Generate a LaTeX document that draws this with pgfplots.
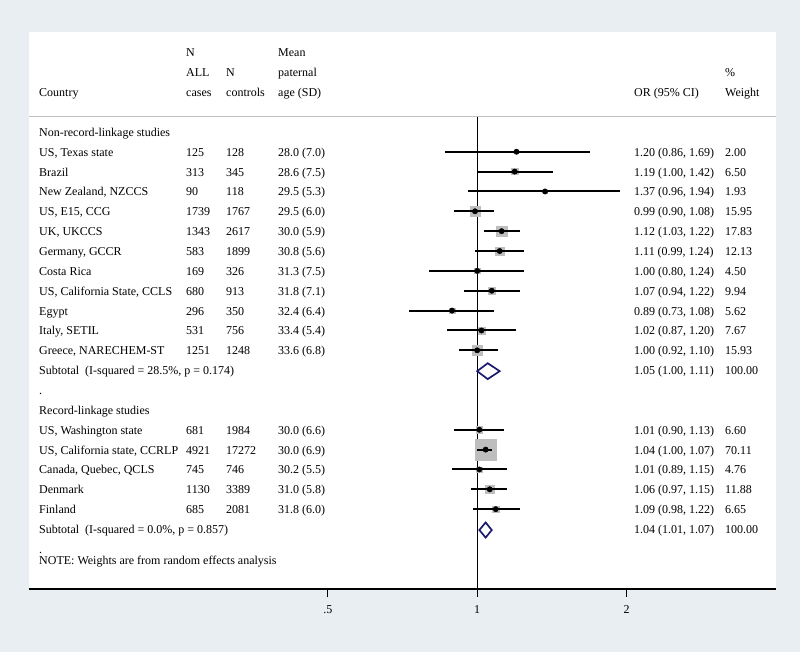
\documentclass[border=0pt]{standalone}
\usepackage{pgfplots}
\pgfplotsset{compat=1.18}
\usepackage{pgfplotstable}
\usepackage{fontspec}
\setmainfont{Liberation Serif}
\definecolor{bg}{RGB}{232,238,242}
\definecolor{sepgray}{RGB}{192,192,192}
\definecolor{boxgray}{RGB}{190,190,190}
\definecolor{navy}{RGB}{26,26,110}

\pgfplotstableread{
row or lo hi w
0 1.20 0.86 1.69 2.00
1 1.19 1.00 1.42 6.50
2 1.37 0.96 1.94 1.93
3 0.99 0.90 1.08 15.95
4 1.12 1.03 1.22 17.83
5 1.11 0.99 1.24 12.13
6 1.00 0.80 1.24 4.50
7 1.07 0.94 1.22 9.94
8 0.89 0.73 1.08 5.62
9 1.02 0.87 1.20 7.67
10 1.00 0.92 1.10 15.93
14 1.01 0.90 1.13 6.60
15 1.04 1.00 1.07 70.11
16 1.01 0.89 1.15 4.76
17 1.06 0.97 1.15 11.88
18 1.09 0.98 1.22 6.65
}\studies

\newcommand\T[3]{\node[txt] at (#1,{156.2+19.86*(#2)}) {#3};}

\begin{document}
\begin{tikzpicture}
\fill[bg] (0,0) rectangle (800bp,-652bp);
\begin{axis}[
  at={(29bp,-589bp)}, anchor=south west,
  scale only axis, width=747bp, height=557bp,
  xmode=log, xmin=0.125, xmax=4,
  ymin=-22.02, ymax=6.03,
  axis x line=bottom, axis y line=none,
  axis line style={-, line width=1.1bp, black},
  xtick={0.5,1,2}, xticklabels={\mbox{.5},\mbox{1},\mbox{2}},
  minor xtick={},
  tick align=outside, major tick length=8bp,
  tick style={line width=1.1bp, black},
  xticklabel style={font=\fontsize{12bp}{14bp}\selectfont, text=black, yshift=-5bp},
  axis background/.style={fill=white},
  clip=false, clip mode=individual,
]
% header separator and null line
\addplot[sepgray, line width=1bp] coordinates {(0.125,1.75) (4,1.75)};
\addplot[black, line width=1.1bp] coordinates {(1,1.75) (1,-22.02)};
% weight boxes
\addplot[scatter, only marks, mark=square*,
  scatter/use mapped color={draw=boxgray, fill=boxgray},
  visualization depends on={1.22*sqrt(\thisrow{w}) \as \msz},
  scatter/@pre marker code/.append style={/tikz/mark size=\msz}]
  table[x=or, y expr=-\thisrow{row}] {\studies};
% CIs
\addplot[only marks, mark=none, black,
  error bars/.cd, x dir=both, x explicit, error mark=none,
  error bar style={line width=2bp, black}]
  table[x=or, y expr=-\thisrow{row},
        x error plus expr=\thisrow{hi}-\thisrow{or},
        x error minus expr=\thisrow{or}-\thisrow{lo}] {\studies};
% point estimates
\addplot[only marks, mark=*, mark size=2.7, black]
  table[x=or, y expr=-\thisrow{row}] {\studies};
% subtotal diamonds
\addplot[navy, line width=1.7bp, fill=white, line join=miter]
  coordinates {(1.00,-11.05) (1.05,-10.65) (1.11,-11.05) (1.05,-11.45)} -- cycle;
\addplot[navy, line width=1.7bp, fill=white, line join=miter]
  coordinates {(1.01,-19.05) (1.04,-18.67) (1.07,-19.05) (1.04,-19.43)} -- cycle;
\end{axis}
\begin{scope}[x=1bp, y=-1bp, txt/.style={anchor=base west, inner sep=0pt, font=\fontsize{12bp}{14bp}\selectfont, text=black}]
\T{186}{-5}{N}
\T{278}{-5}{Mean}
\T{186}{-4}{ALL}
\T{226}{-4}{N}
\T{278}{-4}{paternal}
\T{725}{-4}{\%}
\T{39}{-3}{Country}
\T{186}{-3}{cases}
\T{226}{-3}{controls}
\T{278}{-3}{age (SD)}
\T{634}{-3}{OR (95\% CI)}
\T{725}{-3}{Weight}
\T{39}{-1}{Non-record-linkage studies}
% rows
\T{39}{0}{US, Texas state}\T{186}{0}{125}\T{226}{0}{128}\T{278}{0}{28.0 (7.0)}\T{634}{0}{1.20 (0.86, 1.69)}\T{725}{0}{2.00}
\T{39}{1}{Brazil}\T{186}{1}{313}\T{226}{1}{345}\T{278}{1}{28.6 (7.5)}\T{634}{1}{1.19 (1.00, 1.42)}\T{725}{1}{6.50}
\T{39}{2}{New Zealand, NZCCS}\T{186}{2}{90}\T{226}{2}{118}\T{278}{2}{29.5 (5.3)}\T{634}{2}{1.37 (0.96, 1.94)}\T{725}{2}{1.93}
\T{39}{3}{US, E15, CCG}\T{186}{3}{1739}\T{226}{3}{1767}\T{278}{3}{29.5 (6.0)}\T{634}{3}{0.99 (0.90, 1.08)}\T{725}{3}{15.95}
\T{39}{4}{UK, UKCCS}\T{186}{4}{1343}\T{226}{4}{2617}\T{278}{4}{30.0 (5.9)}\T{634}{4}{1.12 (1.03, 1.22)}\T{725}{4}{17.83}
\T{39}{5}{Germany, GCCR}\T{186}{5}{583}\T{226}{5}{1899}\T{278}{5}{30.8 (5.6)}\T{634}{5}{1.11 (0.99, 1.24)}\T{725}{5}{12.13}
\T{39}{6}{Costa Rica}\T{186}{6}{169}\T{226}{6}{326}\T{278}{6}{31.3 (7.5)}\T{634}{6}{1.00 (0.80, 1.24)}\T{725}{6}{4.50}
\T{39}{7}{US, California State, CCLS}\T{186}{7}{680}\T{226}{7}{913}\T{278}{7}{31.8 (7.1)}\T{634}{7}{1.07 (0.94, 1.22)}\T{725}{7}{9.94}
\T{39}{8}{Egypt}\T{186}{8}{296}\T{226}{8}{350}\T{278}{8}{32.4 (6.4)}\T{634}{8}{0.89 (0.73, 1.08)}\T{725}{8}{5.62}
\T{39}{9}{Italy, SETIL}\T{186}{9}{531}\T{226}{9}{756}\T{278}{9}{33.4 (5.4)}\T{634}{9}{1.02 (0.87, 1.20)}\T{725}{9}{7.67}
\T{39}{10}{Greece, NARECHEM-ST}\T{186}{10}{1251}\T{226}{10}{1248}\T{278}{10}{33.6 (6.8)}\T{634}{10}{1.00 (0.92, 1.10)}\T{725}{10}{15.93}
\T{39}{11}{Subtotal\ \ (I-squared = 28.5\%, p = 0.174)}\T{634}{11}{1.05 (1.00, 1.11)}\T{725}{11}{100.00}
\T{39}{12}{.}
\T{39}{13}{Record-linkage studies}
\T{39}{14}{US, Washington state}\T{186}{14}{681}\T{226}{14}{1984}\T{278}{14}{30.0 (6.6)}\T{634}{14}{1.01 (0.90, 1.13)}\T{725}{14}{6.60}
\T{39}{15}{US, California state, CCRLP}\T{186}{15}{4921}\T{226}{15}{17272}\T{278}{15}{30.0 (6.9)}\T{634}{15}{1.04 (1.00, 1.07)}\T{725}{15}{70.11}
\T{39}{16}{Canada, Quebec, QCLS}\T{186}{16}{745}\T{226}{16}{746}\T{278}{16}{30.2 (5.5)}\T{634}{16}{1.01 (0.89, 1.15)}\T{725}{16}{4.76}
\T{39}{17}{Denmark}\T{186}{17}{1130}\T{226}{17}{3389}\T{278}{17}{31.0 (5.8)}\T{634}{17}{1.06 (0.97, 1.15)}\T{725}{17}{11.88}
\T{39}{18}{Finland}\T{186}{18}{685}\T{226}{18}{2081}\T{278}{18}{31.8 (6.0)}\T{634}{18}{1.09 (0.98, 1.22)}\T{725}{18}{6.65}
\T{39}{19}{Subtotal\ \ (I-squared = 0.0\%, p = 0.857)}\T{634}{19}{1.04 (1.01, 1.07)}\T{725}{19}{100.00}
\T{39}{20}{.}
\node[txt] at (39,564.5) {NOTE: Weights are from random effects analysis};
\end{scope}
\end{tikzpicture}
\end{document}
